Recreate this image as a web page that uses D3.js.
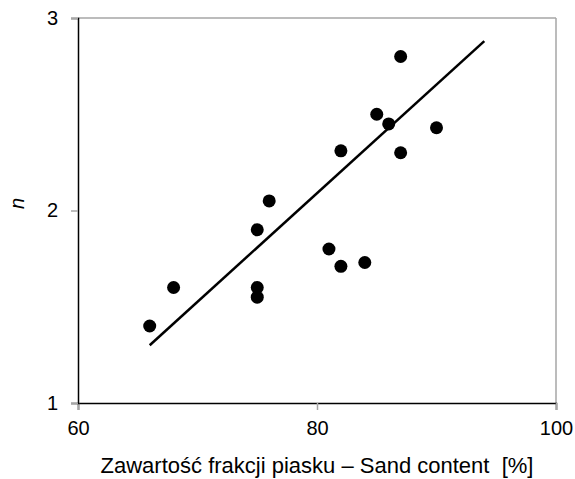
<!DOCTYPE html>
<html>
  <head>
    <style>
      body {
        margin: 0;
        font-family: "Liberation Sans", Arial, sans-serif;
        background: #fff;
      }
      .trend-line {
        fill: none;
        stroke-width: 2.5px;
        stroke: #000;
      }
    </style>
  </head>
  <body>
    <script src="https://d3js.org/d3.v7.min.js"></script>
    <script>
      // sand content [%] and n
      var sand = [66, 68, 75, 75, 75, 76, 81, 82, 82, 84, 85, 86, 87, 87, 90];
      var nVals = [1.40, 1.60, 1.60, 1.55, 1.90, 2.05, 1.80, 1.71, 2.31, 1.73, 2.50, 2.45, 2.80, 2.30, 2.43];
      // trend line end points
      var trendX = [66, 94];
      var trendY = [1.30, 2.88];
      var xTicks = [60, 80, 100];
      var yTicks = [1, 2, 3];

      var margin = {top: 18, right: 19, bottom: 76, left: 78},
        width = 575 - margin.left - margin.right,
        height = 479 - margin.top - margin.bottom;

      var svg = d3.select("body").append("svg")
        .attr("width", 575)
        .attr("height", 479)
        .append("g")
        .attr("transform", "translate(" + margin.left + "," + margin.top + ")");

      var xScale = d3.scaleLinear().domain([60, 100]).range([0, width]);
      var yScale = d3.scaleLinear().domain([1, 3]).range([height, 0]);

      // gray frame on top and right
      svg.append("line")
        .attr("x1", 0).attr("x2", width).attr("y1", 0).attr("y2", 0)
        .attr("stroke", "#a6a6a6").attr("stroke-width", 1.5);
      svg.append("line")
        .attr("x1", width).attr("x2", width).attr("y1", 0).attr("y2", height)
        .attr("stroke", "#a6a6a6").attr("stroke-width", 1.5);

      var xAxis = d3.axisBottom(xScale).tickValues(xTicks).tickSize(7).tickPadding(11).tickFormat(d3.format("d"));
      var yAxis = d3.axisLeft(yScale).tickValues(yTicks).tickSize(7).tickPadding(13).tickFormat(d3.format("d"));

      var gx = svg.append("g")
        .attr("transform", "translate(0," + height + ")")
        .call(xAxis);
      var gy = svg.append("g").call(yAxis);

      [gx, gy].forEach(function(g) {
        g.select(".domain").attr("stroke", "#000").attr("stroke-width", 1.5);
        g.selectAll(".tick line").attr("stroke", "#a6a6a6").attr("stroke-width", 1.5);
        g.selectAll(".tick text")
          .attr("fill", "#000")
          .style("font-family", "'Liberation Sans', Arial, sans-serif")
          .style("font-size", "20px");
      });

      var trend = trendX.map(function(x, i) { return [x, trendY[i]]; });
      var line = d3.line()
        .x(d => xScale(d[0]))
        .y(d => yScale(d[1]));
      svg.append("path")
        .attr("class", "trend-line")
        .datum(trend)
        .attr("d", line);

      var dots = sand.map(function(s, i) { return {x: s, y: nVals[i]}; });
      svg.selectAll("circle")
        .data(dots)
        .enter().append("circle")
          .attr("r", 6.5)
          .attr("cx", d => xScale(d.x))
          .attr("cy", d => yScale(d.y))
          .attr("fill", "#000");

      // axis titles
      svg.append("text")
        .attr("x", width / 2)
        .attr("y", height + 70)
        .attr("text-anchor", "middle")
        .style("font-size", "22px")
        .style("white-space", "pre")
        .text("Zawartość frakcji piasku – Sand content  [%]");

      svg.append("text")
        .attr("transform", "translate(" + (-54) + "," + (yScale(2) - 7) + ") rotate(-90)")
        .attr("text-anchor", "middle")
        .style("font-size", "20px")
        .style("font-style", "italic")
        .text("n");
    </script>
  </body>
</html>
